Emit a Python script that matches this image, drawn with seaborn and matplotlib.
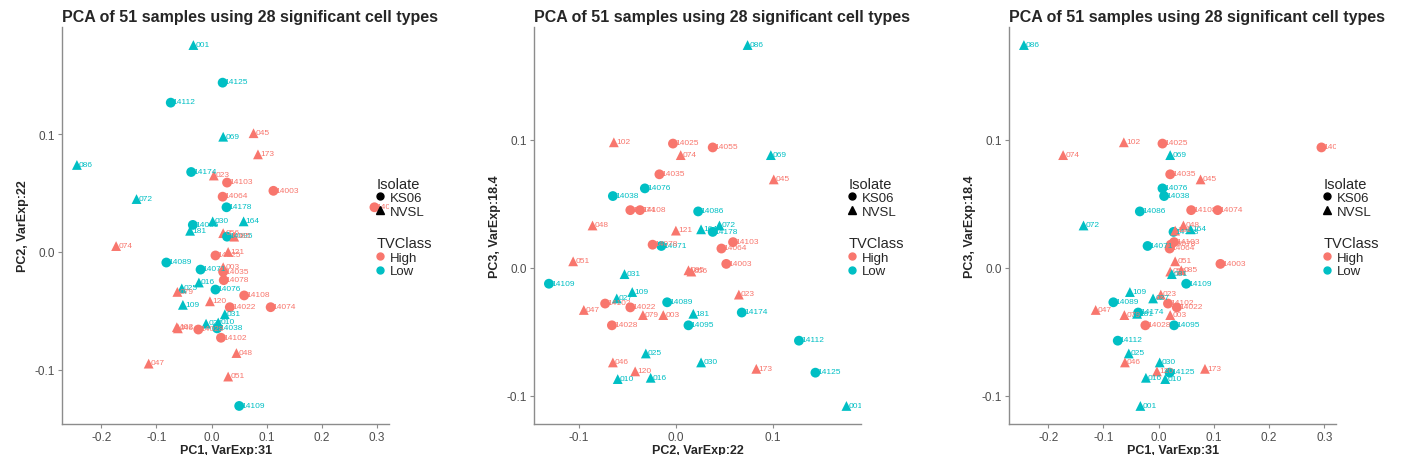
import pandas as pd
import matplotlib
matplotlib.use("Agg")
import matplotlib.pyplot as plt
from matplotlib.lines import Line2D
from matplotlib.ticker import MultipleLocator, FormatStrFormatter
import seaborn as sb

sb.set_style("white")
plt.rcParams['font.family'] = ['Liberation Sans', 'DejaVu Sans']
plt.rcParams['axes.unicode_minus'] = False

# sample data
labels = ["001", "14125", "14112", "069", "045", "173", "086", "14174", "023", "14103",
          "14003", "14064", "14055", "072", "14178", "030", "164", "14086", "181", "056",
          "14095", "085", "074", "14089", "14071", "14078", "016", "025", "079", "14076",
          "14108", "120", "109", "14022", "14074", "031", "010", "027", "14038", "046",
          "14028", "14102", "048", "047", "051", "14109", "102", "14025", "14035", "121", "003"]
isolate = ["NVSL", "KS06", "KS06", "NVSL", "NVSL", "NVSL", "NVSL", "KS06", "NVSL", "KS06",
           "KS06", "KS06", "KS06", "NVSL", "KS06", "NVSL", "NVSL", "KS06", "NVSL", "NVSL",
           "KS06", "NVSL", "NVSL", "KS06", "KS06", "KS06", "NVSL", "NVSL", "NVSL", "KS06",
           "KS06", "NVSL", "NVSL", "KS06", "KS06", "NVSL", "NVSL", "NVSL", "KS06", "NVSL",
           "KS06", "KS06", "NVSL", "NVSL", "NVSL", "KS06", "NVSL", "KS06", "KS06", "NVSL", "NVSL"]
tvclass = ["Low", "Low", "Low", "Low", "High", "High", "Low", "Low", "High", "High",
           "High", "High", "High", "Low", "Low", "Low", "Low", "Low", "Low", "High",
           "Low", "High", "High", "Low", "Low", "High", "Low", "Low", "High", "Low",
           "High", "High", "Low", "High", "High", "Low", "Low", "Low", "Low", "High",
           "High", "High", "High", "High", "High", "Low", "High", "High", "High", "High", "High"]
pc1 = [-0.033, 0.020, -0.074, 0.021, 0.076, 0.084, -0.244, -0.037, 0.004, 0.028,
       0.112, 0.020, 0.295, -0.136, 0.027, 0.002, 0.058, -0.034, -0.039, 0.021,
       0.028, 0.041, -0.173, -0.082, -0.020, 0.022, -0.023, -0.054, -0.062, 0.007,
       0.059, -0.003, -0.052, 0.033, 0.107, 0.024, 0.012, -0.010, 0.010, -0.061,
       -0.024, 0.017, 0.045, -0.114, 0.030, 0.050, -0.063, 0.007, 0.021, 0.030, 0.021]
pc2 = [0.176, 0.144, 0.127, 0.098, 0.101, 0.083, 0.074, 0.068, 0.065, 0.059,
       0.052, 0.047, 0.038, 0.045, 0.038, 0.026, 0.026, 0.023, 0.018, 0.016,
       0.013, 0.013, 0.005, -0.009, -0.015, -0.024, -0.026, -0.031, -0.034, -0.032,
       -0.037, -0.042, -0.045, -0.047, -0.047, -0.053, -0.060, -0.061, -0.065, -0.065,
       -0.066, -0.073, -0.086, -0.095, -0.106, -0.131, -0.064, -0.003, -0.017, 0.000, -0.013]
pc3 = [-0.108, -0.082, -0.057, 0.088, 0.069, -0.079, 0.174, -0.035, -0.021, 0.020,
       0.003, 0.015, 0.094, 0.033, 0.028, -0.074, 0.030, 0.044, -0.036, -0.003,
       -0.045, -0.002, 0.088, -0.027, 0.017, 0.018, -0.086, -0.067, -0.037, 0.062,
       0.045, -0.081, -0.019, -0.031, 0.045, -0.005, -0.087, -0.024, 0.056, -0.074,
       -0.045, -0.028, 0.033, -0.033, 0.005, -0.0125, 0.098, 0.097, 0.073, 0.029, -0.037]

df = pd.DataFrame({"label": labels, "Isolate": isolate, "TVClass": tvclass,
                   "PC1": pc1, "PC2": pc2, "PC3": pc3})

palette = {"High": "#F8766D", "Low": "#00BFC4"}
markers = {"KS06": "o", "NVSL": "^"}
title = "PCA of 51 samples using 28 significant cell types"

panels = [("PC1", "PC2", "PC1, VarExp:31", "PC2, VarExp:22", 0.0435),
          ("PC2", "PC3", "PC2, VarExp:22", "PC3, VarExp:18.4", 0.3745),
          ("PC1", "PC3", "PC1, VarExp:31", "PC3, VarExp:18.4", 0.7076)]

fig = plt.figure(figsize=(14.26, 4.56), dpi=100)

for xcol, ycol, xlab, ylab, left in panels:
    ax = fig.add_axes([left, 0.068, 0.2295, 0.8706])
    sb.scatterplot(data=df, x=xcol, y=ycol, hue="TVClass", style="Isolate",
                   palette=palette, markers=markers, s=50, linewidth=0,
                   legend=False, ax=ax)
    for _, r in df.iterrows():
        ax.annotate(r["label"], (r[xcol], r[ycol]), xytext=(1.5, 0.5),
                    textcoords="offset points", fontsize=6, va="center",
                    ha="left", color=palette[r["TVClass"]], clip_on=True,
                    annotation_clip=True)
    ax.margins(0.05)
    ax.xaxis.set_major_locator(MultipleLocator(0.1))
    ax.yaxis.set_major_locator(MultipleLocator(0.1))
    ax.xaxis.set_major_formatter(FormatStrFormatter("%.1f"))
    ax.yaxis.set_major_formatter(FormatStrFormatter("%.1f"))
    sb.despine(ax=ax)
    for sp in ["left", "bottom"]:
        ax.spines[sp].set_color("#8c8c8c")
        ax.spines[sp].set_linewidth(1.0)
    ax.tick_params(axis="both", which="major", length=3, width=0.8, color="#8c8c8c",
                   labelsize=8.5, labelcolor="#4d4d4d", pad=2, bottom=True, left=True)
    ax.set_xlabel(xlab, fontsize=9, fontweight="bold", labelpad=1)
    ax.set_ylabel(ylab, fontsize=9, fontweight="bold", labelpad=4)
    ax.set_title(title, loc="left", fontsize=11.5, fontweight="bold", pad=4)

    iso_handles = [Line2D([], [], marker="o", color="black", linestyle="", markersize=5),
                   Line2D([], [], marker="^", color="black", linestyle="", markersize=5.5)]
    leg1 = ax.legend(iso_handles, ["KS06", "NVSL"], title="Isolate", loc="upper left",
                     bbox_to_anchor=(0.94, 0.64), frameon=False, fontsize=9.5,
                     title_fontsize=10.5, handlelength=0.6, handletextpad=0.4,
                     labelspacing=0.1, borderpad=0, alignment="left")
    ax.add_artist(leg1)
    tv_handles = [Line2D([], [], marker="o", color=palette["High"], linestyle="", markersize=5),
                  Line2D([], [], marker="o", color=palette["Low"], linestyle="", markersize=5)]
    ax.legend(tv_handles, ["High", "Low"], title="TVClass", loc="upper left",
              bbox_to_anchor=(0.94, 0.49), frameon=False, fontsize=9.5,
              title_fontsize=10.5, handlelength=0.6, handletextpad=0.4,
              labelspacing=0.1, borderpad=0, alignment="left")

plt.savefig("out.png", dpi=100)
